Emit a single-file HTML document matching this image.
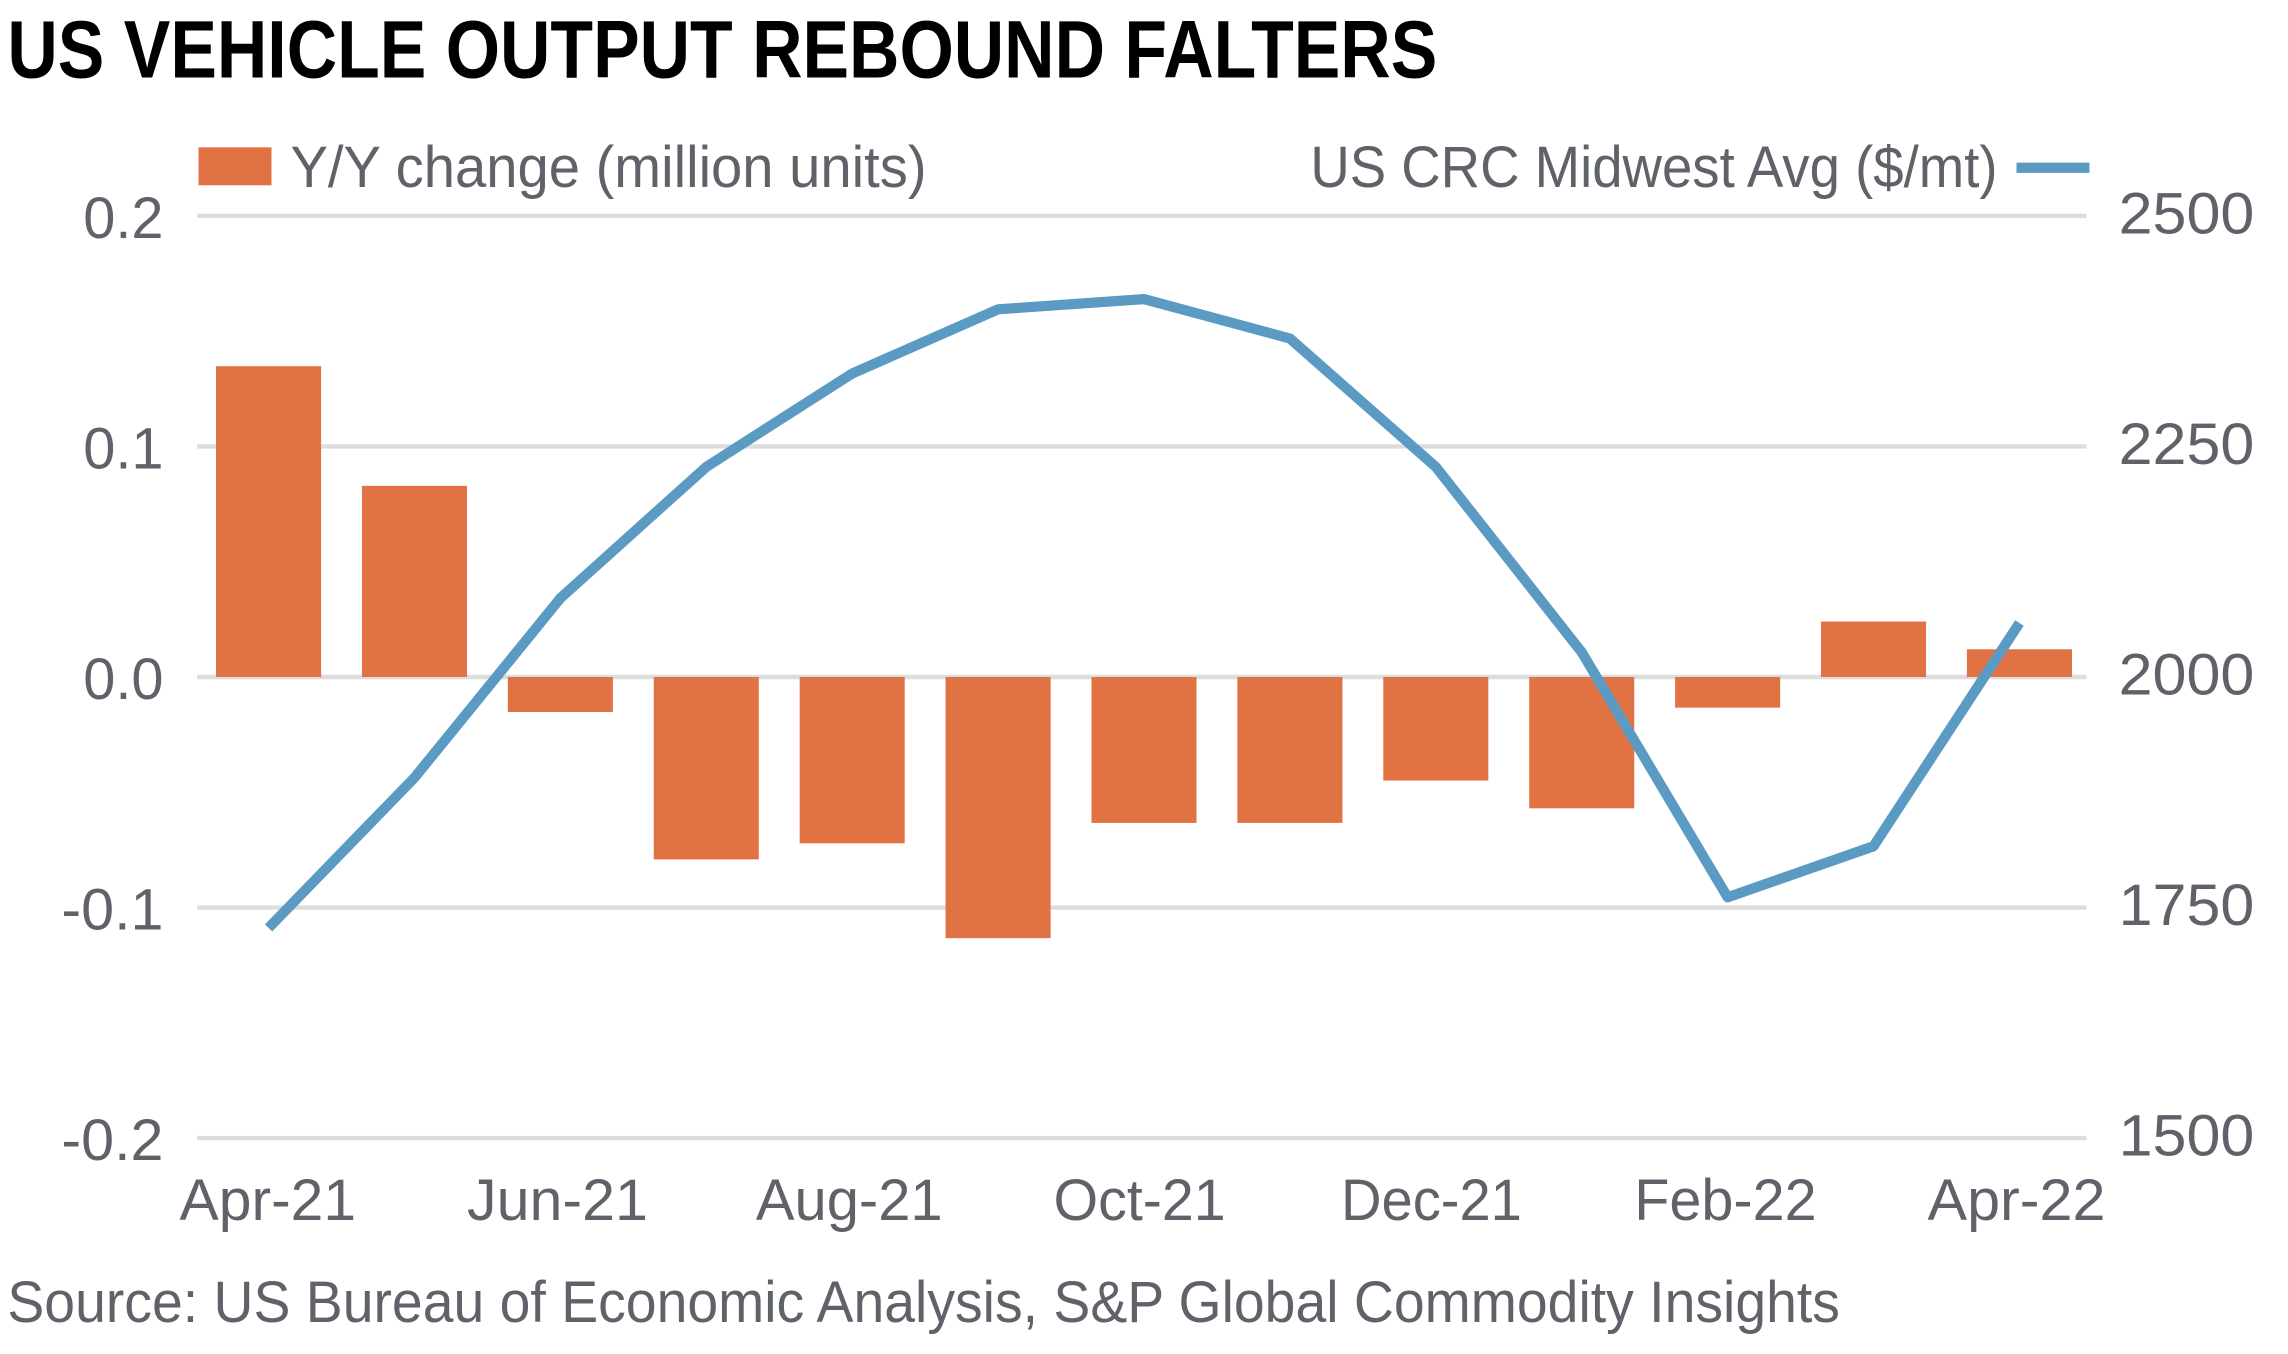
<!DOCTYPE html>
<html><head><meta charset="utf-8"><style>
html,body{margin:0;padding:0;background:#fff;}
svg{display:block;}
text{font-family:"Liberation Sans Narrow","Liberation Sans",sans-serif;fill:#5f6369;}
</style></head><body>
<svg width="2288" height="1354" viewBox="0 0 1568 928" xmlns="http://www.w3.org/2000/svg">
<rect width="1568" height="928" fill="#fff"/>
<text x="5" y="53" font-size="56" font-weight="bold" style="fill:#000" textLength="980" lengthAdjust="spacingAndGlyphs">US VEHICLE OUTPUT REBOUND FALTERS</text>
<rect x="136" y="101" width="50" height="26" fill="#E07244"/>
<text x="199" y="128" font-size="40" textLength="436" lengthAdjust="spacingAndGlyphs">Y/Y change (million units)</text>
<text x="898" y="128" font-size="40" textLength="471" lengthAdjust="spacingAndGlyphs">US CRC Midwest Avg ($/mt)</text>
<line x1="1382" y1="115" x2="1432" y2="115" stroke="#5B9BC3" stroke-width="7"/>
<g stroke="#dddddd" stroke-width="3">
<line x1="135" y1="148" x2="1430" y2="148"/>
<line x1="135" y1="306" x2="1430" y2="306"/>
<line x1="135" y1="464" x2="1430" y2="464"/>
<line x1="135" y1="622" x2="1430" y2="622"/>
<line x1="135" y1="780" x2="1430" y2="780"/>
</g>
<g font-size="40">
<text x="57" y="163" textLength="55" lengthAdjust="spacingAndGlyphs">0.2</text>
<text x="57" y="321" textLength="55" lengthAdjust="spacingAndGlyphs">0.1</text>
<text x="57" y="479" textLength="55" lengthAdjust="spacingAndGlyphs">0.0</text>
<text x="42" y="637" textLength="70" lengthAdjust="spacingAndGlyphs">-0.1</text>
<text x="42" y="795" textLength="70" lengthAdjust="spacingAndGlyphs">-0.2</text>
</g>
<g font-size="40">
<text x="1452" y="160" textLength="93" lengthAdjust="spacingAndGlyphs">2500</text>
<text x="1452" y="318" textLength="93" lengthAdjust="spacingAndGlyphs">2250</text>
<text x="1452" y="476" textLength="93" lengthAdjust="spacingAndGlyphs">2000</text>
<text x="1452" y="634" textLength="93" lengthAdjust="spacingAndGlyphs">1750</text>
<text x="1452" y="792" textLength="93" lengthAdjust="spacingAndGlyphs">1500</text>
</g>
<g fill="#E07244">
<rect x="148" y="251" width="72" height="213"/>
<rect x="248" y="333" width="72" height="131"/>
<rect x="348" y="464" width="72" height="24"/>
<rect x="448" y="464" width="72" height="125"/>
<rect x="548" y="464" width="72" height="114"/>
<rect x="648" y="464" width="72" height="179"/>
<rect x="748" y="464" width="72" height="100"/>
<rect x="848" y="464" width="72" height="100"/>
<rect x="948" y="464" width="72" height="71"/>
<rect x="1048" y="464" width="72" height="90"/>
<rect x="1148" y="464" width="72" height="21"/>
<rect x="1248" y="426" width="72" height="38"/>
<rect x="1348" y="445" width="72" height="19"/>
</g>
<polyline fill="none" stroke="#5B9BC3" stroke-width="7" stroke-linejoin="round" points="184,636 284,533 384,410 484,320 584,256 684,212 784,205 884,232 984,320 1084,447 1184,615 1284,580 1384,427"/>
<g font-size="40">
<text x="123" y="836" textLength="121" lengthAdjust="spacingAndGlyphs">Apr-21</text>
<text x="320" y="836" textLength="124" lengthAdjust="spacingAndGlyphs">Jun-21</text>
<text x="518" y="836" textLength="128" lengthAdjust="spacingAndGlyphs">Aug-21</text>
<text x="722" y="836" textLength="118" lengthAdjust="spacingAndGlyphs">Oct-21</text>
<text x="919" y="836" textLength="124" lengthAdjust="spacingAndGlyphs">Dec-21</text>
<text x="1120" y="836" textLength="125" lengthAdjust="spacingAndGlyphs">Feb-22</text>
<text x="1321" y="836" textLength="122" lengthAdjust="spacingAndGlyphs">Apr-22</text>
</g>
<text x="5" y="906" font-size="40" textLength="1256" lengthAdjust="spacingAndGlyphs">Source: US Bureau of Economic Analysis, S&amp;P Global Commodity Insights</text>
</svg>
</body></html>
